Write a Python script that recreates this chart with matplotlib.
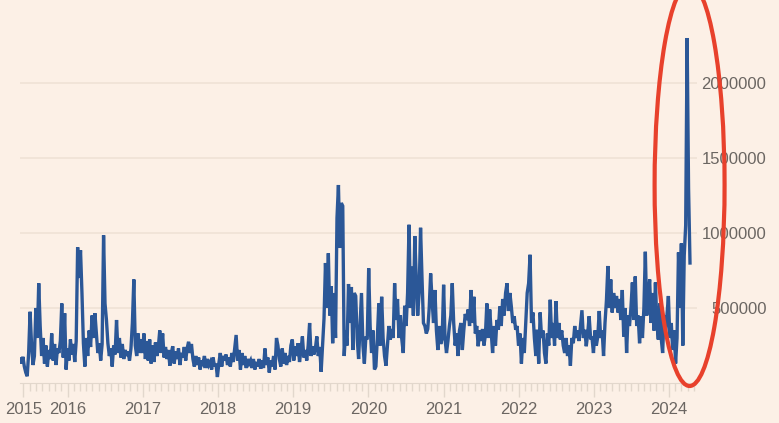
import numpy as np
import pandas as pd
import matplotlib
matplotlib.use('Agg')
import matplotlib.pyplot as plt
import matplotlib.dates as mdates
from matplotlib.patches import Ellipse
from matplotlib.ticker import FuncFormatter

# weekly values, thousands
v2015 = [160, 130, 175, 110, 70, 45, 200, 475, 260, 120, 180, 500, 300, 665, 380,
         180, 300, 130, 250, 110, 220, 160, 330, 150, 260, 120, 230,
         200, 280, 530, 170, 465, 90]
v2016 = [230, 150, 290, 190, 260, 140, 280, 905, 700, 885, 600, 265, 110, 300, 180,
         350, 240, 450, 300, 465, 330, 200, 265, 150, 260, 985, 530, 420,
         265, 180, 230, 110, 250, 190, 420, 200, 300, 170, 260,
         160, 220, 180, 210, 150, 230, 400, 690, 250, 180, 330, 200, 290]
v2017 = [200, 330, 160, 280, 150, 290, 130, 250, 140, 270, 180, 240, 350, 200, 330, 170,
         240, 160, 220, 115, 200, 245, 130, 210, 160, 230, 120, 200, 170, 240, 150, 230,
         275, 200, 260, 160, 110, 180, 120, 170, 90, 150, 130, 180, 100, 160, 120, 140,
         90, 170, 110, 130]
v2018 = [40, 130, 200, 110, 180, 150, 190, 120, 170, 110, 200, 140, 230, 320,
         150, 220, 90, 200, 120, 180, 100, 160, 130, 150, 100, 160, 90, 140, 110, 160,
         95, 150, 100, 230, 120, 170, 70, 150, 110, 180, 90, 300, 250,
         160, 110, 230, 130, 200, 120, 180, 140, 250]
v2019 = [290, 150, 245, 180, 265, 140, 220, 310, 170, 220, 150, 250, 400, 180, 245, 190,
         230, 310, 180, 240, 75, 250, 430, 800, 500, 865, 450, 645, 265, 600, 300,
         1100, 1320, 900, 1200, 1180, 180, 350, 250, 660, 400, 640, 220, 600, 580,
         300, 160, 380, 600, 250, 130, 300]
v2020 = [300, 765, 380, 200, 350, 90, 110, 300, 530, 250, 575, 300, 180, 115, 250, 380,
         290, 360, 300, 665, 420, 560, 300, 450, 290, 200, 515, 380, 600, 1055, 500, 775,
         450, 980, 700, 450, 600, 1035, 700, 400, 380, 330, 360, 500, 730, 550, 400, 620,
         350, 220, 380, 260]
v2021 = [300, 655, 290, 200, 280, 380, 450, 665, 400, 250, 330, 180, 350, 400, 220, 350,
         460, 420, 490, 380, 620, 400, 575, 330, 380, 245, 350, 280, 360, 250, 320, 530,
         300, 490, 350, 200, 380, 250, 420, 355, 510, 380, 560, 450, 600, 665, 480, 600,
         510, 400, 445, 355]
v2022 = [380, 250, 330, 130, 300, 200, 400, 600, 665, 855, 400, 470, 300, 180, 355, 130,
         470, 300, 350, 200, 130, 330, 250, 555, 300, 400, 250, 545, 300, 400, 290, 350,
         250, 200, 300, 180, 250, 115, 300, 265, 380, 300, 350, 280, 380, 485, 300, 355,
         245, 330, 445, 300]
v2023 = [300, 200, 350, 250, 310, 480, 300, 350, 180, 400, 550, 780, 500, 690, 470, 600,
         500, 580, 470, 560, 420, 620, 310, 500, 200, 450, 380, 500, 670, 420, 710, 380,
         450, 265, 445, 300, 500, 875, 450, 580, 690, 400, 600, 350, 670, 400, 290, 530,
         300, 200, 450, 330]
v2024 = [450, 580, 300, 400, 220, 350, 130, 300, 870, 500, 930, 250, 850, 1050, 2300,
         1300, 800]

values = np.array(v2015 + v2016 + v2017 + v2018 + v2019 + v2020 + v2021 + v2022
                  + v2023 + v2024) * 1000
dates = pd.date_range('2015-05-15', periods=len(values), freq='7D')

year_ticks = ['2015-06-01'] + ['%d-01-01' % y for y in range(2016, 2025)]
year_labels = ['%d' % y for y in range(2015, 2025)]
y_ticks = [500000, 1000000, 1500000, 2000000]

BG = '#fcf0e6'
BLUE = '#2b5797'
GREY = '#6b6662'
plt.rcParams['font.family'] = ['Liberation Sans', 'DejaVu Sans']

fig = plt.figure(figsize=(7.79, 4.23), dpi=100)
fig.patch.set_facecolor(BG)
ax = fig.add_axes([20 / 779, 1 - 383 / 423, 677 / 779, 378 / 423])
ax.set_facecolor(BG)

ax.plot(dates, values, color=BLUE, lw=2.4, solid_joinstyle='miter', zorder=3)

ax.set_xlim(pd.Timestamp('2015-05-15'), pd.Timestamp('2024-05-16'))
ax.set_ylim(0, 2520000)

ax.set_xticks(pd.to_datetime(year_ticks))
ax.set_xticklabels(year_labels)
ax.xaxis.set_minor_locator(mdates.MonthLocator())
ax.tick_params(axis='x', which='major', length=10, width=1, color='#e2d7cc',
               labelsize=12, labelcolor=GREY, pad=4)
ax.tick_params(axis='x', which='minor', length=6, width=1, color='#e2d7cc')

ax.yaxis.tick_right()
ax.set_yticks(y_ticks)
ax.yaxis.set_major_formatter(FuncFormatter(lambda v, p: '%d' % v))
ax.tick_params(axis='y', length=0, labelsize=12, labelcolor=GREY, pad=50)
for lab in ax.get_yticklabels():
    lab.set_horizontalalignment('right')
ax.grid(axis='y', color='#efe2d6', lw=1.2, zorder=0)

for s in ['top', 'left', 'right']:
    ax.spines[s].set_visible(False)
ax.spines['bottom'].set_color('#e2d7cc')

# red highlight ring round the last weeks
centre = mdates.date2num(pd.Timestamp('2024-04-10'))
ring = Ellipse((centre, 1320000), width=340, height=2680000, fill=False,
               edgecolor='#e8412c', lw=3, clip_on=False, zorder=6)
ax.add_patch(ring)

fig.savefig('out.png', dpi=100, facecolor=BG)
